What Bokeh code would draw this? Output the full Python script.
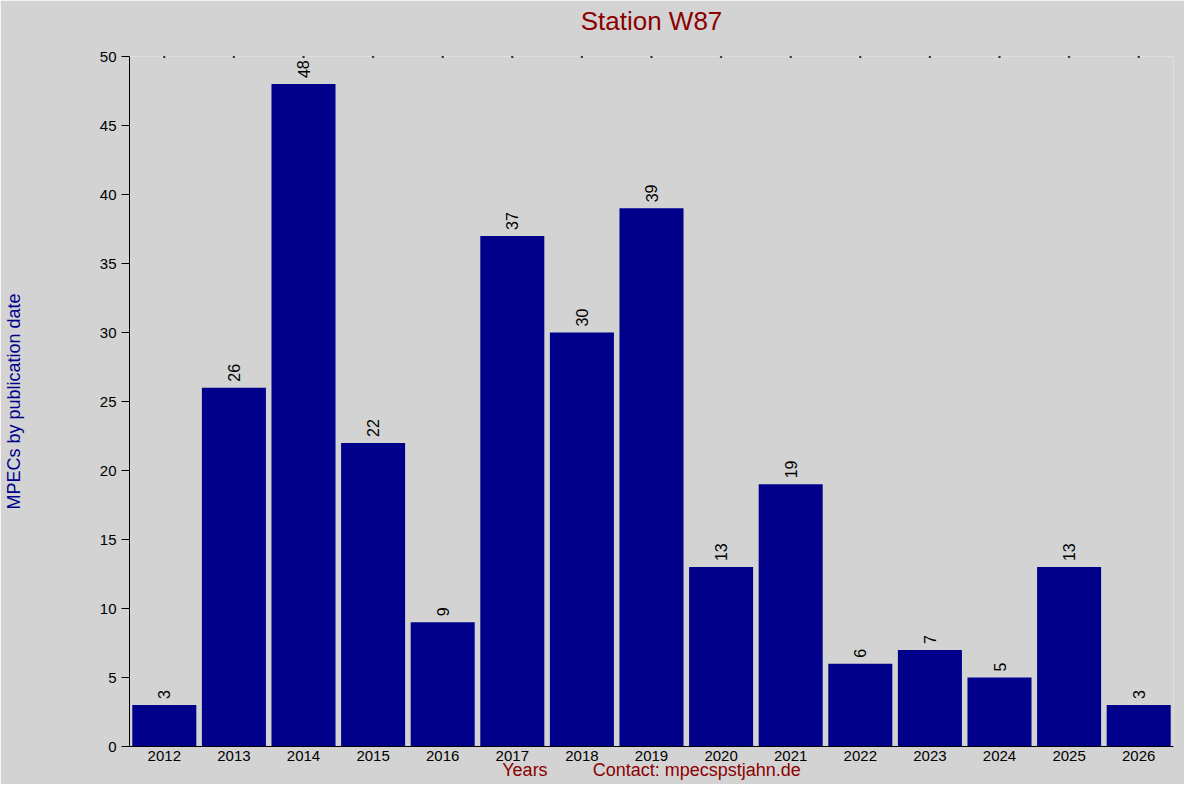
from bokeh.plotting import figure
from bokeh.models import FactorRange, Range1d, FixedTicker, ColumnDataSource, Title
from bokeh.core.properties import value
from bokeh.embed import file_html
from bokeh.resources import INLINE

# MPECs per year for station W87
years = ["2012", "2013", "2014", "2015", "2016", "2017", "2018", "2019",
         "2020", "2021", "2022", "2023", "2024", "2025", "2026"]
counts = [3, 26, 48, 22, 9, 37, 30, 39, 13, 19, 6, 7, 5, 13, 3]
y_max = 50
y_ticks = [0, 5, 10, 15, 20, 25, 30, 35, 40, 45, 50]

bg = "#d3d3d3"
font = "Liberation Sans"

src = ColumnDataSource(data=dict(x=years, top=counts, lbl=[str(c) for c in counts],
                                 dots=[y_max] * len(years)))

p = figure(x_range=FactorRange(*years, range_padding=0), y_range=Range1d(0, y_max),
           width=1184, height=784, output_backend="svg", toolbar_location=None,
           min_border_left=126, min_border_right=11, min_border_top=56, min_border_bottom=38)

p.background_fill_color = bg
p.border_fill_color = bg
p.outline_line_color = None
p.grid.visible = False
p.title.visible = False

# empty spacer between the plot area and the title, then the title itself
p.add_layout(Title(text="\u00a0", text_font_size="14px", standoff=0), "above")
p.add_layout(Title(text="Station W87", align="center", text_color="#8b0000",
                   text_font=font, text_font_size="26px", text_font_style="normal",
                   standoff=6), "above")

p.vbar(x="x", top="top", width=0.92, source=src, fill_color="#00008b", line_color=None)
p.text(x="x", y="top", text="lbl", source=src, angle=1.5708, text_align="left",
       text_baseline="middle", y_offset=-6, text_font=value(font),
       text_font_size="16px", text_color="black")
# small dots along the top at each year
p.scatter(x="x", y="dots", source=src, marker="square", size=1.5, color="black")

ya = p.yaxis[0]
ya.ticker = FixedTicker(ticks=y_ticks)
ya.minor_tick_line_color = None
ya.major_tick_out = 8
ya.major_tick_in = 0
ya.major_label_standoff = 5
ya.major_label_text_font = font
ya.major_label_text_font_size = "15px"
ya.major_label_text_color = "black"
ya.axis_line_color = "black"
ya.axis_label = "MPECs by publication date"
ya.axis_label_text_font = font
ya.axis_label_text_font_size = "18px"
ya.axis_label_text_font_style = "normal"
ya.axis_label_text_color = "#00008b"
ya.axis_label_standoff = 73

xa = p.xaxis[0]
xa.major_tick_line_color = None
xa.major_tick_out = 0
xa.major_label_standoff = 4
xa.major_label_text_font = font
xa.major_label_text_font_size = "15px"
xa.major_label_text_color = "black"
xa.axis_line_color = "black"
xa.axis_label = "Years" + "\u00a0" * 9 + "Contact: mpecspstjahn.de"
xa.axis_label_text_font = font
xa.axis_label_text_font_size = "18px"
xa.axis_label_text_font_style = "normal"
xa.axis_label_text_color = "#8b0000"
xa.axis_label_standoff = -4

open("out.html", "w").write(file_html(p, INLINE))
